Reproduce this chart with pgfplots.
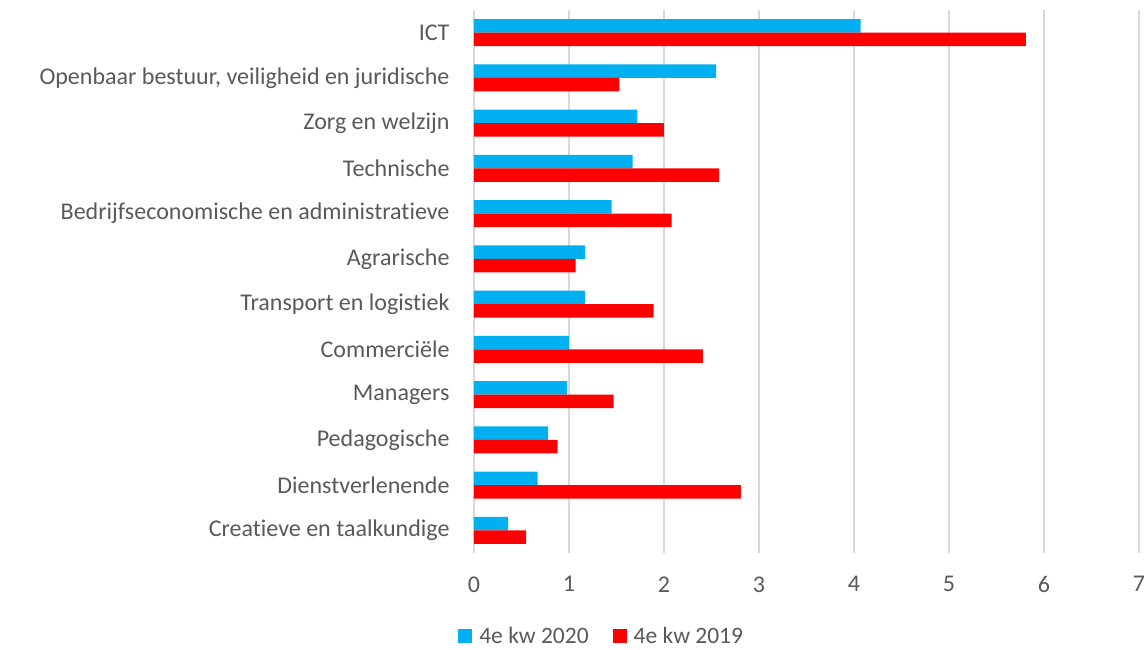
\documentclass[border=0pt]{standalone}
\usepackage{pgfplots}
\pgfplotsset{compat=1.18}
\usepackage{fontspec}
\setmainfont{Carlito}[Ligatures=NoCommon]
\definecolor{cblue}{HTML}{00B0F0}
\definecolor{cred}{HTML}{FF0000}
\definecolor{txt}{HTML}{595959}
\definecolor{grd}{HTML}{D9D9D9}
\begin{document}
\begin{tikzpicture}
\useasboundingbox (0,0) rectangle (1144pt,649pt);
\begin{axis}[at={(474pt,96pt)}, anchor=south west, scale only axis,
  width=665pt, height=543pt,
  xmin=0, xmax=7, ymin=-0.5, ymax=11.5,
  xbar, bar width=13.5pt,
  xtick={0,...,7}, ytick={0,...,11},
  yticklabels={Creatieve en taalkundige, Dienstverlenende, Pedagogische, Managers, Commerciële, Transport en logistiek, Agrarische, Bedrijfseconomische en administratieve, Technische, Zorg en welzijn, {Openbaar bestuur, veiligheid en juridische}, ICT},
  major tick length=0pt, axis line style={draw=none},
  xmajorgrids, grid style={grd, line width=1.5pt},
  tick label style={font=\fontsize{24}{29}\selectfont, text=txt},
  /pgf/number format/assume math mode=true,
  xticklabel style={yshift=-20pt},
  yticklabel style={xshift=-21pt},
  legend columns=2,
  legend style={draw=none, at={(0.192,-0.153)}, anchor=center, font=\fontsize{23.5}{28}\selectfont, text=txt,
    /tikz/every odd column/.append style={column sep=5pt},
    /tikz/every even column/.append style={column sep=22pt}},
  legend image code/.code={\fill[#1,draw=none] (0pt,-7pt) rectangle (14pt,7pt);},
]
\addplot[fill=cblue, draw=none, bar shift=6.75pt] coordinates {
(0.36,0) (0.67,1) (0.78,2) (0.98,3) (1.00,4) (1.17,5) (1.17,6) (1.45,7) (1.67,8) (1.72,9) (2.55,10) (4.07,11)};
\addplot[fill=cred, draw=none, bar shift=-6.75pt] coordinates {
(0.55,0) (2.81,1) (0.88,2) (1.47,3) (2.41,4) (1.89,5) (1.07,6) (2.08,7) (2.58,8) (2.00,9) (1.53,10) (5.81,11)};
\legend{4e kw 2020, 4e kw 2019}
\end{axis}
\end{tikzpicture}
\end{document}
